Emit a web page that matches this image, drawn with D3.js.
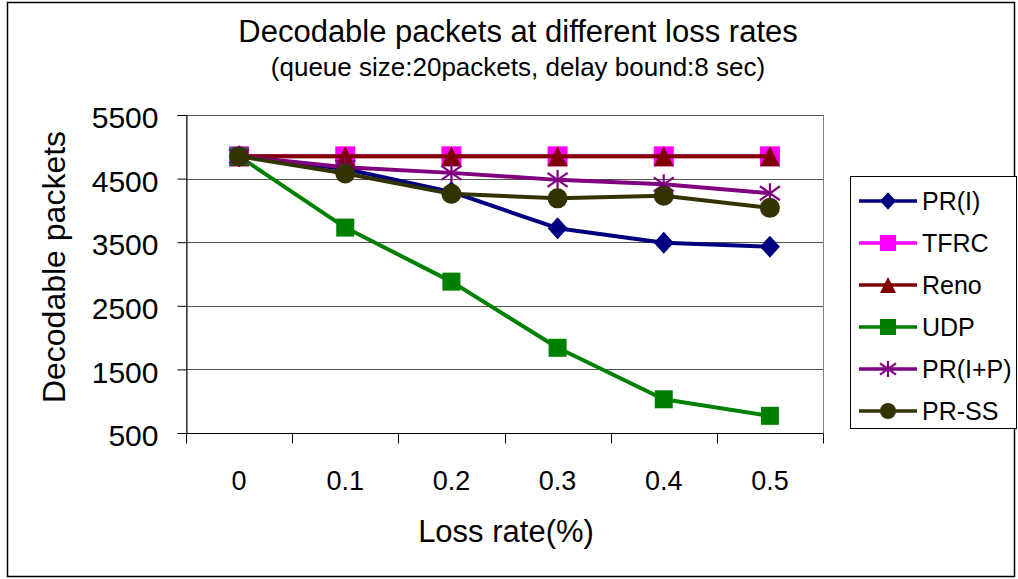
<!DOCTYPE html>
<html>
<head>
<meta charset="utf-8">
<script src="https://cdn.jsdelivr.net/npm/d3@7"></script>
<style>
  html, body { margin: 0; padding: 0; background: #fff; }
  svg text { font-family: "Liberation Sans", Arial, sans-serif; fill: #000; }
</style>
</head>
<body>
<svg id="chart" width="1018" height="579"></svg>
<script>
// Loss rates on the x axis
const lossRates = ["0", "0.1", "0.2", "0.3", "0.4", "0.5"];
// Decodable packets per scheme
const prI    = [4850, 4650, 4290, 3720, 3490, 3430];
const tfrc   = [4850, 4850, 4850, 4850, 4850, 4850];
const reno   = [4850, 4850, 4850, 4850, 4850, 4850];
const udp    = [4850, 3730, 2880, 1840, 1030, 770];
const prIP   = [4850, 4680, 4590, 4480, 4410, 4270];
const prSS   = [4850, 4580, 4260, 4190, 4230, 4040];
const yTicks = [500, 1500, 2500, 3500, 4500, 5500];

const series = [
  { name: "PR(I)",   values: prI,  color: "#000080", marker: "diamond" },
  { name: "TFRC",    values: tfrc, color: "#FF00FF", marker: "square" },
  { name: "Reno",    values: reno, color: "#800000", marker: "triangle" },
  { name: "UDP",     values: udp,  color: "#008000", marker: "square" },
  { name: "PR(I+P)", values: prIP, color: "#800080", marker: "star" },
  { name: "PR-SS",   values: prSS, color: "#333300", marker: "circle" }
];

const svg = d3.select("#chart");

// outer frame
svg.append("rect").attr("x", 7.5).attr("y", 2.5).attr("width", 1007).attr("height", 574)
  .attr("fill", "#fff").attr("stroke", "#000").attr("stroke-width", 1.5);

const plot = { left: 186, right: 823, top: 115, bottom: 433 };

const x = d3.scaleBand().domain(lossRates).range([plot.left, plot.right]);
const y = d3.scaleLinear().domain([500, 5500]).range([plot.bottom, plot.top]);
const cx = d => x(d) + x.bandwidth() / 2;

// plot background and border
svg.append("rect").attr("x", plot.left + 0.5).attr("y", plot.top + 0.5)
  .attr("width", plot.right - plot.left).attr("height", plot.bottom - plot.top)
  .attr("fill", "#fff").attr("stroke", "#808080").attr("stroke-width", 1);

// horizontal gridlines
svg.append("g").selectAll("line").data(yTicks).join("line")
  .attr("x1", plot.left).attr("x2", plot.right)
  .attr("y1", d => Math.round(y(d)) + 0.5).attr("y2", d => Math.round(y(d)) + 0.5)
  .attr("stroke", "#555").attr("stroke-width", 1);

// y axis
const yAxis = d3.axisLeft(y).tickValues(yTicks).tickSize(9).tickPadding(19).tickFormat(d3.format("d"));
const gy = svg.append("g").attr("transform", `translate(${plot.left + 0.5},0)`).call(yAxis);
gy.select(".domain").attr("stroke", "#000");
gy.selectAll(".tick line").attr("stroke", "#000");
gy.selectAll(".tick text").attr("font-size", 30).attr("font-family", "Liberation Sans, Arial, sans-serif")
  .attr("dy", "0.42em");

// x axis: labels at band centres, ticks at band edges
const gx = svg.append("g").attr("transform", `translate(0,${plot.bottom + 0.5})`);
gx.append("line").attr("x1", plot.left).attr("x2", plot.right).attr("stroke", "#000");
const edges = lossRates.map(d => x(d)).concat([plot.right]);
gx.selectAll("line.tk").data(edges).join("line").attr("class", "tk")
  .attr("x1", d => Math.round(d) + 0.5).attr("x2", d => Math.round(d) + 0.5)
  .attr("y1", 0).attr("y2", 10).attr("stroke", "#000");
gx.selectAll("text").data(lossRates).join("text")
  .attr("x", d => cx(d)).attr("y", 56.5).attr("text-anchor", "middle")
  .attr("font-size", 27).text(d => d);

// series lines and markers
const line = d3.line().x((d, i) => cx(lossRates[i])).y(d => y(d));

function drawMarker(g, kind, color, px, py, s) {
  const h = s / 2;
  const t = `translate(${px},${py})`;
  if (kind === "star") {
    const p = g.append("g").attr("transform", t).attr("stroke", color).attr("stroke-width", 2.2);
    p.append("line").attr("x1", 0).attr("x2", 0).attr("y1", -h).attr("y2", h);
    p.append("line").attr("x1", -h).attr("x2", h).attr("y1", -h * 0.7).attr("y2", h * 0.7);
    p.append("line").attr("x1", -h).attr("x2", h).attr("y1", h * 0.7).attr("y2", -h * 0.7);
  } else if (kind === "square") {
    g.append("rect").attr("x", px - h).attr("y", py - h).attr("width", s).attr("height", s).attr("fill", color);
  } else if (kind === "diamond") {
    g.append("path").attr("transform", t).attr("fill", color)
      .attr("d", `M0,${-h * 1.1}L${h},0L0,${h * 1.1}L${-h},0Z`);
  } else if (kind === "triangle") {
    g.append("path").attr("transform", t).attr("fill", color)
      .attr("d", `M0,${-h}L${h},${h}L${-h},${h}Z`);
  } else {
    g.append("circle").attr("cx", px).attr("cy", py).attr("r", h).attr("fill", color);
  }
}

series.forEach(s => {
  const g = svg.append("g");
  g.append("path").datum(s.values).attr("d", line)
    .attr("fill", "none").attr("stroke", s.color).attr("stroke-width", 4)
    .attr("stroke-linejoin", "round");
  const ms = s.marker === "square" && s.name === "UDP" ? 18 : 20;
  s.values.forEach((v, i) => drawMarker(g, s.marker, s.color, cx(lossRates[i]), y(v), ms));
});

// titles
svg.append("text").attr("x", 518).attr("y", 42).attr("text-anchor", "middle")
  .attr("font-size", 31).text("Decodable packets at different loss rates");
svg.append("text").attr("x", 518).attr("y", 76).attr("text-anchor", "middle")
  .attr("font-size", 26).text("(queue size:20packets, delay bound:8 sec)");
svg.append("text").attr("x", 506).attr("y", 542).attr("text-anchor", "middle")
  .attr("font-size", 31).text("Loss rate(%)");
svg.append("text").attr("transform", "translate(65,267) rotate(-90)").attr("text-anchor", "middle")
  .attr("font-size", 32).text("Decodable packets");

// legend
const lg = svg.append("g");
lg.append("rect").attr("x", 850.5).attr("y", 176.5).attr("width", 166).attr("height", 252)
  .attr("fill", "#fff").attr("stroke", "#000").attr("stroke-width", 1);
series.forEach((s, i) => {
  const ly = 201 + i * 42;
  lg.append("line").attr("x1", 859).attr("x2", 917).attr("y1", ly).attr("y2", ly)
    .attr("stroke", s.color).attr("stroke-width", 3.5);
  drawMarker(lg, s.marker, s.color, 888, ly, 16);
  lg.append("text").attr("x", 922).attr("y", ly + 9).attr("font-size", 25).text(s.name);
});
</script>
</body>
</html>
